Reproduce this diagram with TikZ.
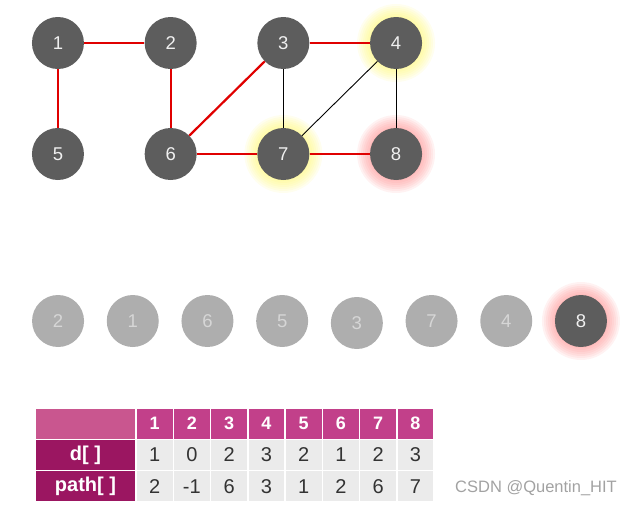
\documentclass[tikz,border=0pt]{standalone}
\usepackage{fontspec}
\setmainfont{Liberation Sans}
\usetikzlibrary{matrix,backgrounds}

\definecolor{nodegray}{HTML}{5D5D5D}
\definecolor{fadedgray}{HTML}{AEAEAE}
\definecolor{fadedtext}{HTML}{D6D6D6}
\definecolor{treered}{HTML}{E00000}
\definecolor{headpink}{HTML}{C2408A}
\definecolor{cornerpink}{HTML}{C9568F}
\definecolor{labelpurple}{HTML}{9B1661}
\definecolor{cellgray}{HTML}{EBEBEB}
\definecolor{celltext}{HTML}{333333}
\definecolor{markgray}{HTML}{A2A2A2}

\begin{document}
\begin{tikzpicture}[x=1pt,y=-1pt,
  vertex/.style={circle,fill=nodegray,text=white!94!black,minimum size=52pt,inner sep=0pt,font=\fontsize{18.5}{18.5}\selectfont},
  faded/.style={vertex,fill=fadedgray,text=fadedtext},
  treeedge/.style={draw=treered,line width=2.2pt},
  otheredge/.style={draw=black,line width=0.9pt},
  cell/.style={anchor=center,outer sep=0pt,inner sep=0pt,minimum height=29.8pt,minimum width=35.75pt,fill=cellgray,text=celltext,font=\fontsize{20}{20}\selectfont},
  headcell/.style={cell,fill=headpink,text=white,font=\bfseries\fontsize{18}{18}\selectfont},
  headcorner/.style={cell,fill=cornerpink,minimum width=99.5pt},
  rowlabel/.style={cell,fill=labelpurple,text=white,minimum width=99.5pt,font=\bfseries\fontsize{20}{20}\selectfont}]
\useasboundingbox (0,0) rectangle (631,516);

\matrix (g) [row sep=59pt, column sep=60.7pt, inner sep=0pt] at (227,98.5)
{ \node[vertex] (n1) {1}; & \node[vertex] (n2) {2}; & \node[vertex] (n3) {3}; & \node[vertex] (n4) {4}; \\
  \node[vertex] (n5) {5}; & \node[vertex] (n6) {6}; & \node[vertex] (n7) {7}; & \node[vertex] (n8) {8}; \\
};

\matrix (q) [column sep=22.7pt, inner sep=0pt] at (319.5,322)
{ \node[faded] (r1) {2}; & \node[faded] (r2) {1}; & \node[faded] (r3) {6}; & \node[faded] (r4) {5}; &
  \node[faded,yshift=-2pt] (r5) {3}; & \node[faded] (r6) {7}; & \node[faded] (r7) {4}; & \node[vertex] (r8) {8}; \\
};

\begin{scope}[on background layer]
\foreach \r in {27,29,...,39} {
  \fill[yellow!70!white,opacity=.09] (n4) circle (\r pt);
  \fill[yellow!70!white,opacity=.09] (n7) circle (\r pt);
  \fill[red!50!white,opacity=.1] (n8) circle (\r pt);
  \fill[red!50!white,opacity=.1] (r8) circle (\r pt);
}
\end{scope}

\draw[treeedge] (n1) -- (n2);
\draw[treeedge] (n1) -- (n5);
\draw[treeedge] (n2) -- (n6);
\draw[treeedge] (n6) -- (n3);
\draw[treeedge] (n3) -- (n4);
\draw[treeedge] (n6) -- (n7);
\draw[treeedge] (n7) -- (n8);
\draw[otheredge] (n3) -- (n7);
\draw[otheredge] (n4) -- (n7);
\draw[otheredge] (n4) -- (n8);

\matrix (t) [matrix of nodes, nodes={cell}, row sep=1.5pt, column sep=1.5pt, inner sep=0pt] at (234.5,455)
{ |[headcorner]| {} & |[headcell]| 1 & |[headcell]| 2 & |[headcell]| 3 & |[headcell]| 4 & |[headcell]| 5 & |[headcell]| 6 & |[headcell]| 7 & |[headcell]| 8 \\
  |[rowlabel]| d[ ] & 1 & 0 & 2 & 3 & 2 & 1 & 2 & 3 \\
  |[rowlabel]| path[ ] & 2 & -1 & 6 & 3 & 1 & 2 & 6 & 7 \\
};

\node[text=markgray,font=\fontsize{16.5}{16.5}\selectfont] (mark) at (536,488) {CSDN @Quentin\_HIT};
\end{tikzpicture}
\end{document}
